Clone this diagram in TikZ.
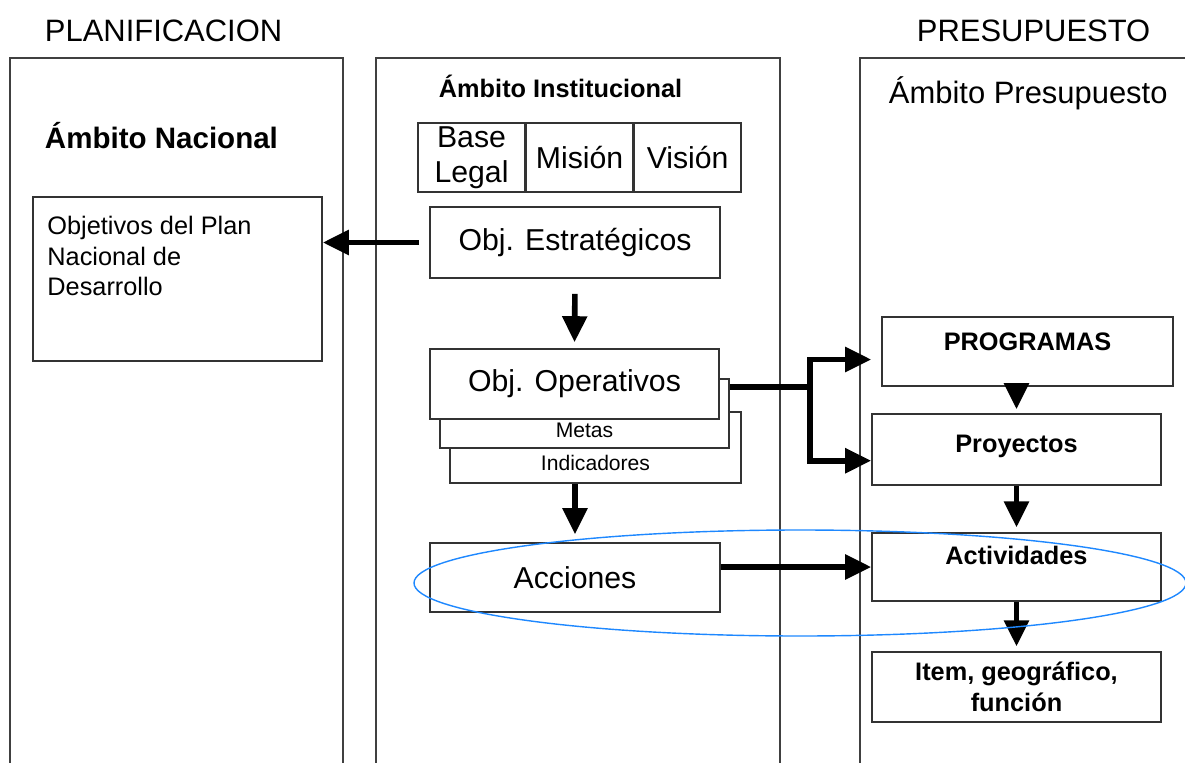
\documentclass[tikz,border=0pt]{standalone}
\usepackage{fontspec}
\setmainfont{Liberation Sans}
\usetikzlibrary{arrows.meta,positioning}
\definecolor{ovalblue}{RGB}{30,136,255}

\begin{document}
\begin{tikzpicture}[x=0.025cm, y=-0.025cm,
    col/.style={draw=black!75, line width=1pt},
    box/.style={draw=black!80, line width=1.1pt, fill=white, inner sep=0pt},
    flow/.style={line width=4pt, -{Triangle[length=0.65cm, width=0.6cm]}},
    head/.style={font=\fontsize{22}{26}\selectfont},
    bigtxt/.style={font=\fontsize{21.5}{25}\selectfont},
    smalltxt/.style={font=\fontsize{15}{18}\selectfont, text height=1.2cm, text depth=0pt},
    rtxt/.style={font=\bfseries\fontsize{18}{21.6}\selectfont}]
    \useasboundingbox (0,0) rectangle (1185,763);

    % The three columns (open at the bottom)
    \draw[col] (10,763) -- (10,58) -- (343,58) -- (343,763);
    \draw[col] (376,763) -- (376,58) -- (780,58) -- (780,763);
    \draw[col] (860,763) -- (860,58) -- (1185,58);

    \node[head, anchor=base west] (planif) at (40,41) {PLANIFICACION};
    \node[head, anchor=base west] (presup) at (912,41) {PRESUPUESTO};

    % Left column: national level
    \node[anchor=base west, font=\bfseries\fontsize{21}{25}\selectfont] (ambnac) at (40,148) {Ámbito Nacional};
    \node[box, minimum width=7.225cm, minimum height=4.1cm] (objplan) at (177.5,279) {};
    \node[anchor=north west, align=left, inner sep=0pt, font=\fontsize{18}{21.7}\selectfont] (objplantxt)
        at ([xshift=0.375cm, yshift=-0.5cm]objplan.north west) {Objetivos del Plan\\Nacional de\\Desarrollo};

    % Middle column: institutional level
    \node[anchor=base west, font=\bfseries\fontsize{18}{21}\selectfont] (ambinst) at (434,97) {Ámbito Institucional};
    \node[box, bigtxt, align=center, minimum width=2.675cm, minimum height=1.725cm] (base) at (471.5,157.5) {Base\\Legal};
    \node[box, bigtxt, minimum width=2.65cm, minimum height=1.725cm, right=0pt of base] (mision) {Misión};
    \node[box, bigtxt, minimum width=2.675cm, minimum height=1.725cm, right=0pt of mision] (vision) {Visión};

    \node[box, bigtxt, minimum width=7.25cm, minimum height=1.775cm] (est) at (575,242.5) {Obj. Estratégicos};
    \node[box, smalltxt, text height=1.15cm, minimum width=7.275cm, minimum height=1.775cm] (ind) at (595.5,447.5) {Indicadores};
    \node[box, smalltxt, minimum width=7.225cm, minimum height=1.725cm] (metas) at (584.5,413.5) {Metas};
    \node[box, bigtxt, minimum width=7.225cm, minimum height=1.75cm] (ope) at (574.5,384) {Obj. Operativos};
    \node[box, bigtxt, minimum width=7.25cm, minimum height=1.725cm] (acc) at (575,577.5) {Acciones};

    % Right column: budget level
    \node[head, anchor=base west] (ambpres) at (884,103) {Ámbito Presupuesto};
    \node[box, rtxt, text height=0.5cm, text depth=0.55cm, minimum width=7.275cm, minimum height=1.725cm] (prog) at (1027.5,351.5) {PROGRAMAS};
    \node[box, rtxt, text height=0.5cm, text depth=0.375cm, minimum width=7.225cm, minimum height=1.775cm] (proy) at (1016.5,449.5) {Proyectos};
    \node[box, rtxt, text height=0.5cm, text depth=0.65cm, minimum width=7.225cm, minimum height=1.7cm] (act) at (1016.5,567) {Actividades};
    \node[box, rtxt, align=center, minimum width=7.225cm, minimum height=1.75cm] (item) at (1016.5,687) {Item, geográfico,\\función};

    % Connectors
    \draw[flow, shorten <=0.25cm] (est.west) -- (est.west -| objplan.east);
    \draw[flow, shorten <=0.375cm, shorten >=0.15cm] (est.south) -- (ope.north);
    \draw[flow, shorten >=0.2cm] (ind.south -| acc.north) -- (acc.north);
    \coordinate (fork) at (810,387);
    \draw[line width=4pt] (metas.east |- fork) -- (fork);
    \draw[flow, shorten >=0.25cm] (fork) |- ([yshift=-0.2cm]prog.west);
    \draw[flow] (fork) |- ([yshift=-0.28cm]proy.west);
    \draw[flow] (act.west -| acc.east) -- (act.west);
    \draw[flow, shorten >=0.1cm] (proy.north |- prog.south) -- (proy.north);
    \draw[flow, shorten >=0.12cm] (proy.south) -- (act.north);
    \draw[flow, shorten >=0.12cm] (act.south) -- (item.north);

    % Highlight round Acciones / Actividades
    \draw[ovalblue, line width=1pt] (800,583) ellipse [x radius=386, y radius=53];
\end{tikzpicture}
\end{document}
